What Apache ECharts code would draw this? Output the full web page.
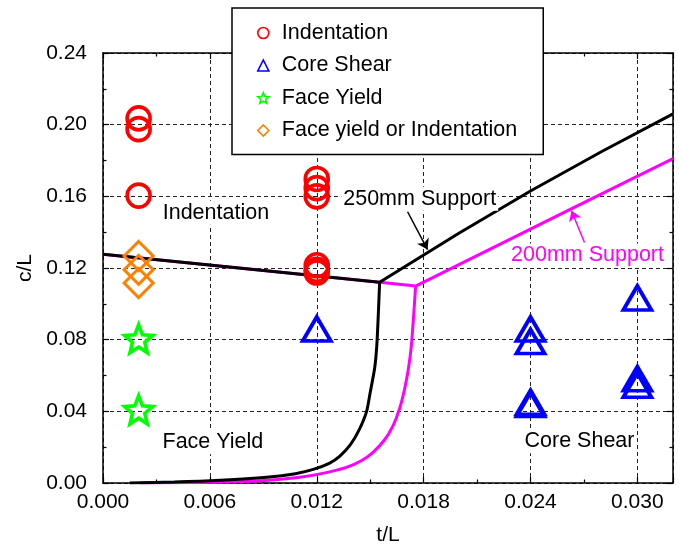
<!DOCTYPE html>
<html><head><meta charset="utf-8">
<script src="https://cdn.jsdelivr.net/npm/echarts@6/dist/echarts.min.js"></script>
<style>html,body{margin:0;padding:0;background:#fff}#c{width:679px;height:551px}</style>
</head><body><div id="c"></div>
<script>
// ---- data ----
const indentation = [[0.002,0.2035],[0.002,0.1975],[0.002,0.1604],[0.012,0.1697],[0.012,0.1646],[0.012,0.1600],[0.012,0.1215],[0.012,0.1190],[0.012,0.1175]];
const coreShear = [[0.012,0.0860],[0.024,0.0860],[0.024,0.0790],[0.024,0.0450],[0.024,0.0438],[0.030,0.1033],[0.030,0.0582],[0.030,0.0546]];
const faceYield = [[0.002,0.0805],[0.002,0.0408]];
const faceOrIndent = [[0.002,0.1267],[0.002,0.1190],[0.002,0.1116]];
const support250 = [[0,0.1277],[0.01553,0.1121],[0.0200,0.1395],[0.0240,0.1630],[0.0280,0.1850],[0.032,0.2060]];
const support250Curve = [[0.0015,0],[0.0040,0.0005],[0.0066,0.0015],[0.0092,0.0032],[0.0108,0.0052],[0.0118,0.0076],[0.0127,0.0110],[0.0133,0.0150],[0.0139,0.0215],[0.0144,0.0301],[0.0148,0.0400],[0.0150,0.0505],[0.01525,0.0640],[0.01537,0.0765],[0.01546,0.0950],[0.01553,0.1121]];
const support200 = [[0,0.1277],[0.01553,0.1121],[0.01755,0.1099],[0.0262,0.1526],[0.032,0.1810]];
const support200Curve = [[0.0021,0],[0.0050,0.0003],[0.0073,0.0007],[0.0093,0.0016],[0.01105,0.0032],[0.0124,0.0055],[0.01366,0.0087],[0.01450,0.0124],[0.01516,0.0171],[0.01580,0.0240],[0.01628,0.0319],[0.01665,0.0415],[0.01693,0.0523],[0.01715,0.0640],[0.01731,0.0765],[0.01745,0.0950],[0.01755,0.1099]];
const annotations = [
  {name:'Indentation', value:[0.00634,0.1509], color:'#000'},
  {name:'Face Yield', value:[0.00617,0.0228], color:'#000'},
  {name:'Core Shear', value:[0.02675,0.0233], color:'#000'},
  {name:'250mm Support', value:[0.01778,0.1587], color:'#000'},
  {name:'200mm Support', value:[0.0272,0.1270], color:'#ff00ff'}
];
const arrows = [
  {coords:[[0.0171,0.1514],[0.01822,0.1303]], color:'#000'},
  {coords:[[0.02703,0.1342],[0.0263,0.1520]], color:'#ff00ff'}
];
const xTicks = {min:0, max:0.032, interval:0.006};
const yTicks = {min:0, max:0.24, interval:0.04};

const FONT = "'Liberation Sans', Arial, sans-serif";
const starPath = 'path://M50 0 L62.93 32.2 L97.55 34.55 L70.92 56.8 L79.39 90.45 L50 72 L20.61 90.45 L29.08 56.8 L2.45 34.55 L37.07 32.2 Z';

const chart = echarts.init(document.getElementById('c'), null, {renderer:'canvas'});

function mkX(pos, show){
  return {
    type:'value', position:pos, min:xTicks.min, max:xTicks.max, interval:xTicks.interval,
    name: show ? 't/L' : '', nameLocation:'middle', nameGap:42,
    nameTextStyle:{fontSize:21, color:'#000', fontFamily:FONT},
    axisLine:{show:true, onZero:false, lineStyle:{color:'#000', width:1.5}},
    axisTick:{show:true, inside:true, length:6, lineStyle:{color:'#000', width:1.2}},
    minorTick:{show:true, splitNumber:2, length:3.5, lineStyle:{color:'#000', width:1.2}},
    axisLabel:{show:show, margin:9, fontSize:21, color:'#000', fontFamily:FONT, showMaxLabel:false,
      formatter:v=>v.toFixed(3)},
    splitLine:{show:show, lineStyle:{color:'#222', width:1, type:[4,3]}}
  };
}
function mkY(pos, show){
  return {
    type:'value', position:pos, min:yTicks.min, max:yTicks.max, interval:yTicks.interval,
    name: show ? 'c/L' : '', nameLocation:'middle', nameGap:62,
    nameTextStyle:{fontSize:21, color:'#000', fontFamily:FONT},
    axisLine:{show:true, onZero:false, lineStyle:{color:'#000', width:1.5}},
    axisTick:{show:true, inside:true, length:6, lineStyle:{color:'#000', width:1.2}},
    minorTick:{show:true, splitNumber:2, length:3.5, lineStyle:{color:'#000', width:1.2}},
    axisLabel:{show:show, margin:16, fontSize:21, color:'#000', fontFamily:FONT,
      formatter:v=>v.toFixed(2)},
    splitLine:{show:show, lineStyle:{color:'#222', width:1, type:[4,3]}}
  };
}

function scatter(name, data, symbol, size, color, bw){
  return {
    name, type:'scatter', data, symbol, symbolSize:size, z:5,
    itemStyle:{color:'rgba(0,0,0,0)', borderColor:color, borderWidth:bw, opacity:1},
    emphasis:{disabled:true}
  };
}
function line(data, color, smooth){
  return {
    type:'line', data, showSymbol:false, symbol:'none', smooth:smooth,
    lineStyle:{color, width:3}, z:3, silent:true
  };
}

chart.setOption({
  animation:false,
  backgroundColor:'#fff',
  textStyle:{fontFamily:FONT},
  grid:{left:103, right:6, top:53, bottom:67, containLabel:false},
  xAxis:[mkX('bottom', true), mkX('top', false)],
  yAxis:[mkY('left', true), mkY('right', false)],
  legend:{
    data:['Indentation','Core Shear','Face Yield','Face yield or Indentation'],
    orient:'vertical', left:232, top:8,
    padding:[14,26,13,25], itemGap:10.5, itemWidth:11, itemHeight:11,
    borderColor:'#000', borderWidth:1.5, backgroundColor:'#fff',
    itemStyle:{borderWidth:1.6},
    textStyle:{fontSize:21.5, color:'#000', fontFamily:FONT, padding:[0,0,0,8]},
    selectedMode:false
  },
  series:[
    line(support200, '#ff00ff', false),
    line(support200Curve, '#ff00ff', 0.25),
    line(support250, '#000', false),
    line(support250Curve, '#000', 0.25),
    scatter('Indentation', indentation, 'circle', 23, '#ff0000', 3.6),
    scatter('Core Shear', coreShear, 'triangle', [28,24], '#0000ff', 3.8),
    scatter('Face Yield', faceYield, starPath, 28, '#00ff00', 3.6),
    scatter('Face yield or Indentation', faceOrIndent, 'diamond', [29,29], '#ff8000', 3),
    {
      type:'lines', coordinateSystem:'cartesian2d', z:6, silent:true,
      symbol:['none','arrow'], symbolSize:10,
      data: arrows.map(a=>({coords:a.coords, lineStyle:{color:a.color, width:1.5, opacity:1}}))
    },
    {
      type:'scatter', symbolSize:1, z:4, silent:true,
      itemStyle:{color:'rgba(0,0,0,0)'},
      data: annotations.map(a=>({name:a.name, value:a.value,
        label:{show:true, position:'inside', formatter:'{b}', fontSize:21.5, fontFamily:FONT,
          color:a.color, opacity:1, textBorderWidth:0, textBorderColor:'transparent',
          backgroundColor:'#fff', padding:[1,2]}}))
    }
  ]
});
</script></body></html>
